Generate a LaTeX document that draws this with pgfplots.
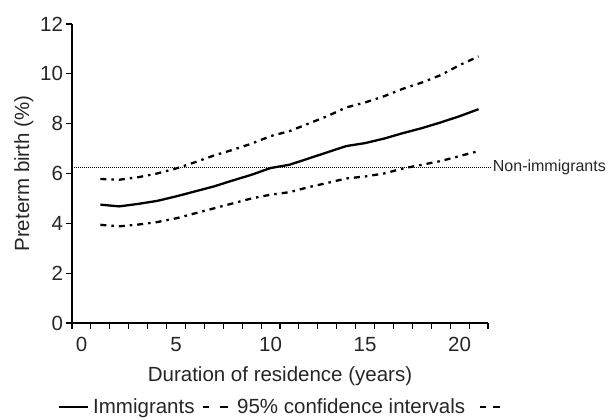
\documentclass[border=0pt]{standalone}
\usepackage{pgfplots}
\pgfplotsset{compat=1.18}
\usepackage{fontspec}
\setmainfont{Liberation Sans}
\begin{document}
\begin{tikzpicture}
\begin{axis}[
  at={(0,0)}, anchor=south west,
  scale only axis, width=416bp, height=299bp,
  xmin=-0.5, xmax=21.5, ymin=0, ymax=12,
  axis x line*=bottom, axis y line*=left,
  axis line style={line width=1.3bp},
  every tick/.style={line width=1.1bp, black},
  tick align=outside,
  major tick length=5.5bp,
  minor tick length=6bp,
  xtick={0,5,10,15,20},
  minor xtick={-0.5,0.5,...,21.5},
  every major x tick/.append style={draw=none},
  ytick={0,2,...,12},
  /pgf/number format/assume math mode=true,
  tick label style={font=\fontsize{20.5bp}{24bp}\selectfont, text=black!85},
  label style={font=\fontsize{20.5bp}{24bp}\selectfont, text=black!85},
  xticklabel style={yshift=-5bp},
  xlabel={Duration of residence (years)},
  ylabel={Preterm birth (\%)},
  xlabel style={yshift=-8bp},
  clip=false,
]
\addplot[line width=0.9bp, dash pattern=on 1bp off 1bp, black] coordinates {(-0.5,6.25) (21.65,6.25)};
\node[anchor=west, font=\fontsize{16bp}{19bp}\selectfont, text=black!85, inner sep=0pt] at (axis cs:21.75,6.25) {Non-immigrants};
\addplot[line width=2.3bp, black] coordinates {
(1,4.75) (2,4.68) (3,4.78) (4,4.9) (5,5.08) (6,5.28) (7,5.48) (8,5.72) (9,5.95) (10,6.22)
(11,6.35) (12,6.6) (13,6.85) (14,7.1) (15,7.22) (16,7.4) (17,7.62) (18,7.82) (19,8.05) (20,8.3) (21,8.58)};
\addplot[line width=2.3bp, black, dash pattern=on 6bp off 5bp on 2.5bp off 5bp] coordinates {
(1,5.78) (2,5.75) (3,5.85) (4,6.0) (5,6.2) (6,6.45) (7,6.72) (8,6.95) (9,7.2) (10,7.5)
(11,7.7) (12,8.0) (13,8.3) (14,8.65) (15,8.85) (16,9.1) (17,9.4) (18,9.65) (19,9.95) (20,10.35) (21,10.7)};
\addplot[line width=2.3bp, black, dash pattern=on 6bp off 5bp on 2.5bp off 5bp] coordinates {
(1,3.94) (2,3.88) (3,3.95) (4,4.05) (5,4.2) (6,4.4) (7,4.6) (8,4.8) (9,5.0) (10,5.15)
(11,5.25) (12,5.45) (13,5.62) (14,5.8) (15,5.88) (16,6.0) (17,6.2) (18,6.35) (19,6.5) (20,6.7) (21,6.9)};
\end{axis}
% legend
\draw[line width=2.3bp] (-13bp,-84bp) -- (16bp,-84bp);
\node[anchor=base west, inner sep=0pt, font=\fontsize{20.5bp}{24bp}\selectfont, text=black!85] at (21bp,-90bp) {Immigrants};
\draw[line width=2.3bp] (131bp,-84bp) -- (137bp,-84bp) (148bp,-84bp) -- (156bp,-84bp);
\node[anchor=base west, inner sep=0pt, font=\fontsize{20.5bp}{24bp}\selectfont, text=black!85] at (165bp,-90bp) {95\% confidence intervals};
\draw[line width=2.3bp] (408bp,-84bp) -- (414bp,-84bp) (421bp,-84bp) -- (428bp,-84bp);
\pgfresetboundingbox
\path[use as bounding box] (-72bp,-96.5bp) rectangle (543bp,323bp);
\end{tikzpicture}
\end{document}
